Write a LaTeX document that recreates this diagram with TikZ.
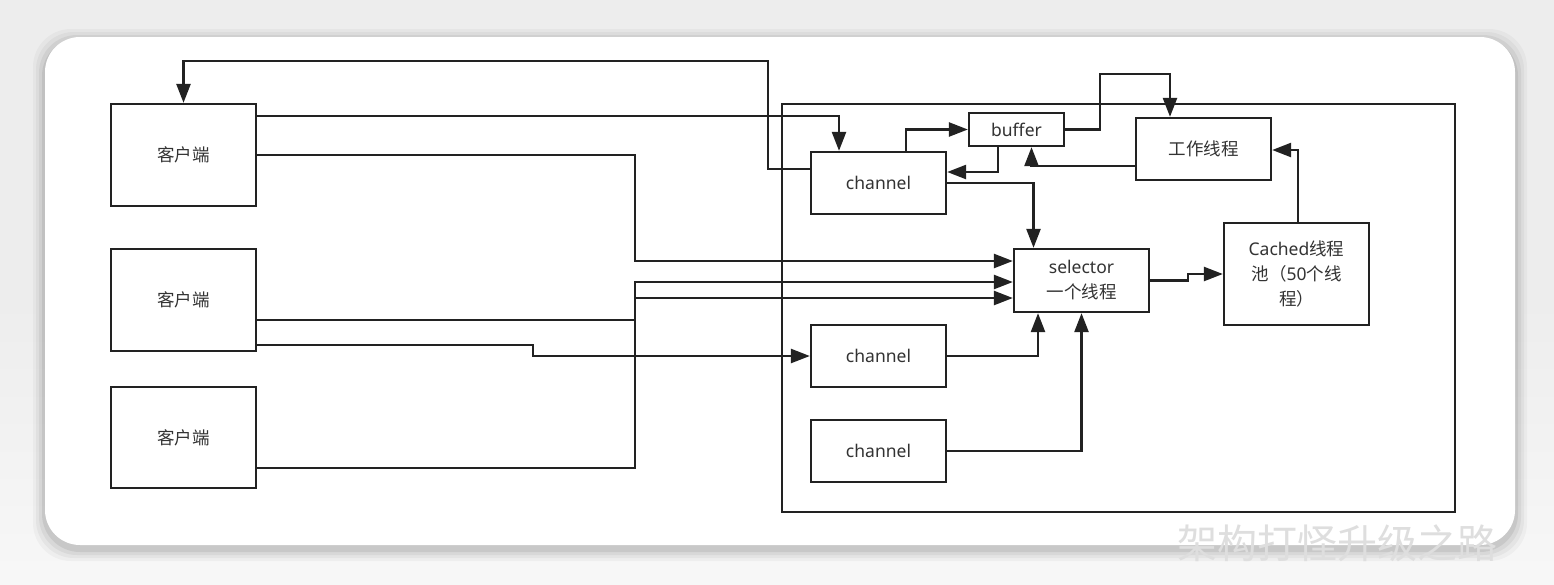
\documentclass[tikz,border=0pt]{standalone}
\usepackage{fontspec}
\setmainfont{Noto Sans}
\newfontfamily\cjk{Noto Sans CJK SC}
\usetikzlibrary{arrows.meta}
\definecolor{ln}{HTML}{222222}
\definecolor{bgg}{HTML}{EDEDED}
\tikzset{
  box/.style={draw=ln,line width=2.3pt,fill=white,inner sep=0pt,align=center,font=\fontsize{17.5}{25}\selectfont,text=black!80},
  arr/.style={draw=ln,line width=2.5pt,-{Triangle[length=19pt,width=14pt]}},
  ln/.style={draw=ln,line width=2.5pt}
}
\begin{document}
\begin{tikzpicture}[x=1pt,y=-1pt]
\useasboundingbox (0,0) rectangle (1554,584);
% background and card
\fill[bgg] (0,0) rectangle (1554,300);
\shade[top color=bgg,bottom color=white!97!black] (0,300) rectangle (1554,584);
\foreach \i/\o in {12/0.03,9/0.04,6/0.05,3/0.07}{
  \fill[black,opacity=\o,rounded corners=38pt] (45-\i,37-\i+4) rectangle (1515+\i,545+\i+4);
}
\fill[white,rounded corners=35pt] (45,37) rectangle (1515,545);
% watermark
\node[anchor=west,inner sep=0pt,text=black!13,font=\cjk\fontsize{40}{40}\selectfont] (wm) at (1177,543) {架构打怪升级之路};
% container
\draw[ln,line width=2.2pt] (782,104) rectangle (1455,512);
% nodes
\node[box,minimum width=145pt,minimum height=102pt] (c1) at (183.5,155) {\cjk 客户端};
\node[box,minimum width=145pt,minimum height=102pt] (c2) at (183.5,300) {\cjk 客户端};
\node[box,minimum width=145pt,minimum height=101pt] (c3) at (183.5,437.5) {\cjk 客户端};
\node[box,minimum width=135pt,minimum height=62pt] (ch1) at (878.5,183) {channel};
\node[box,minimum width=95pt,minimum height=33pt] (buf) at (1016.5,129.5) {buffer};
\node[box,minimum width=135pt,minimum height=62pt] (work) at (1203.5,149) {\cjk 工作线程};
\node[box,minimum width=135pt,minimum height=63pt] (sel) at (1081.5,280.5) {selector\\{\cjk 一个线程}};
\node[box,minimum width=145pt,minimum height=102pt] (cache) at (1296.5,274) {Cached{\cjk 线程}\\{\cjk 池（}50{\cjk 个线}\\{\cjk 程）}};
\node[box,minimum width=135pt,minimum height=62pt] (ch2) at (878.5,356) {channel};
\node[box,minimum width=135pt,minimum height=62pt] (ch3) at (878.5,451) {channel};
% connectors
\draw[arr] ([yshift=14pt]ch1.west) -| (768,61) -| (c1.north);
\draw[arr] ([yshift=39pt]c1.east) -| ([xshift=-39.5pt]ch1.north);
\draw[arr] (c1.east) -| (635,261) -- (sel.west |- 635,261);
\draw[arr] ([yshift=-20pt]c2.east) -| (635,298) -- (sel.west |- 635,298);
\draw[arr] ([yshift=-30.5pt]c3.east) -| (635,282) -- (sel.west |- 635,282);
\draw[arr] ([yshift=-45pt]c2.east) -| (533,356) -- (ch2.west);
\draw[arr] ([xshift=27.5pt]ch1.north) |- (buf.west);
\draw[arr] ([xshift=-18.5pt]buf.south) |- ([yshift=11pt]ch1.east);
\draw[arr] (buf.east) -| (1100,74) -| ([xshift=-33.5pt]work.north);
\draw[arr] ([yshift=-17pt]work.west) -| ([xshift=15pt]buf.south);
\draw[arr] (ch1.east) -| ([xshift=-48pt]sel.north);
\draw[arr] (sel.east) -| (1188,274) -- (cache.west);
\draw[arr] ([xshift=1.5pt]cache.north) |- ([yshift=-1pt]work.east);
\draw[arr] (ch2.east) -| ([xshift=-43.5pt]sel.south);
\draw[arr] (ch3.east) -| (sel.south);
\end{tikzpicture}
\end{document}
